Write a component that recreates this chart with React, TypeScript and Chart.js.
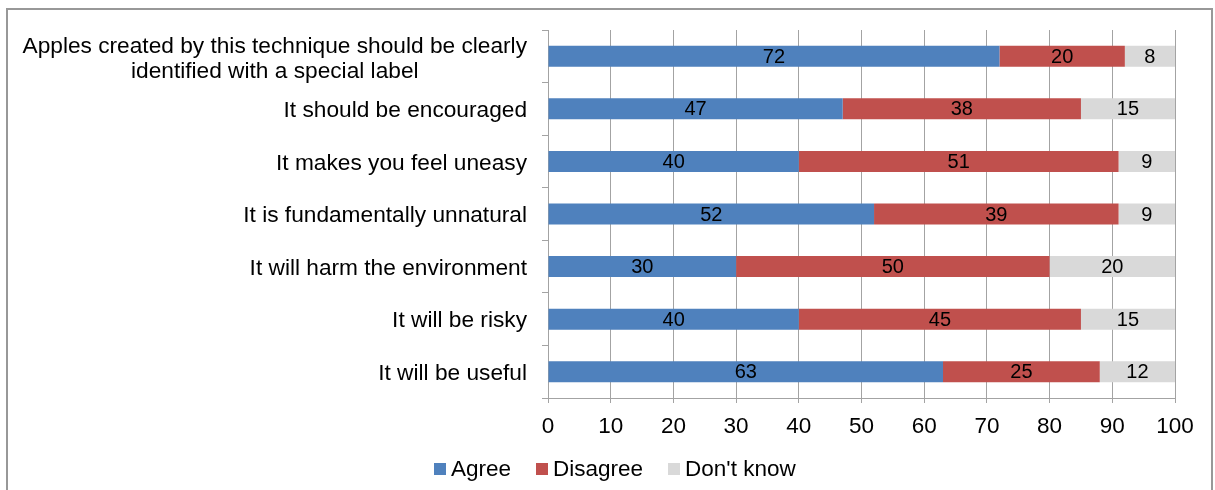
import React, { useEffect, useRef } from "react";
import { Chart, registerables } from "chart.js";

Chart.register(...registerables);

const FONT = "'Liberation Sans', Arial, Helvetica, sans-serif";

const categories: string[][] = [
  ["Apples created by this technique should be clearly", "identified with a special label"],
  ["It should be encouraged"],
  ["It makes you feel uneasy"],
  ["It is fundamentally unnatural"],
  ["It will harm the environment"],
  ["It will be risky"],
  ["It will be useful"],
];
const agree = [72, 47, 40, 52, 30, 40, 63];
const disagree = [20, 38, 51, 39, 50, 45, 25];
const dontKnow = [8, 15, 9, 9, 20, 15, 12];
const seriesNames = ["Agree", "Disagree", "Don't know"];
const seriesColors = ["#4F81BD", "#C0504D", "#D9D9D9"];
const axisMin = 0;
const axisMax = 100;
const axisStep = 10;

const GRID = "#a3a3a3";

const valueLabels = {
  id: "valueLabels",
  afterDatasetsDraw(chart: any) {
    const ctx = chart.ctx;
    ctx.save();
    ctx.font = `20px ${FONT}`;
    ctx.fillStyle = "#000";
    ctx.textAlign = "center";
    ctx.textBaseline = "middle";
    chart.data.datasets.forEach((ds: any, di: number) => {
      const meta = chart.getDatasetMeta(di);
      meta.data.forEach((el: any, i: number) => {
        const p = el.getCenterPoint();
        ctx.fillText(String(ds.data[i]), p.x, p.y + 1);
      });
    });
    ctx.restore();
  },
};

const categoryLabels = {
  id: "categoryLabels",
  afterDraw(chart: any) {
    const ctx = chart.ctx;
    const scale = chart.scales.y;
    ctx.save();
    ctx.font = `22.7px ${FONT}`;
    ctx.fillStyle = "#000";
    ctx.textAlign = "center";
    ctx.textBaseline = "middle";
    const right = scale.right - 21;
    const lh = 25;
    categories.forEach((lines, i) => {
      const cy = scale.getPixelForValue(i);
      const widest = Math.max(...lines.map((l) => ctx.measureText(l).width));
      const cx = right - widest / 2;
      const shift = lines.length > 1 ? 3 : 2;
      lines.forEach((l, k) => {
        ctx.fillText(l, cx, cy + (k - (lines.length - 1) / 2) * lh + shift);
      });
    });
    ctx.restore();
  },
};

export default function App() {
  const ref = useRef<HTMLCanvasElement | null>(null);

  useEffect(() => {
    if (!ref.current) return;
    const values = [agree, disagree, dontKnow];
    const chart = new Chart(ref.current, {
      type: "bar",
      data: {
        labels: categories.map((c) => c.join(" ")),
        datasets: seriesNames.map((name, i) => ({
          label: name,
          data: values[i],
          backgroundColor: seriesColors[i],
          borderWidth: 0,
          barPercentage: 0.4,
          categoryPercentage: 1,
        })),
      },
      options: {
        indexAxis: "y",
        responsive: false,
        animation: false,
        layout: { padding: { top: 30, right: 40, left: 0, bottom: 0 } },
        plugins: {
          legend: { display: false },
          tooltip: { enabled: false },
        },
        scales: {
          x: {
            stacked: true,
            min: axisMin,
            max: axisMax,
            ticks: {
              stepSize: axisStep,
              font: { family: FONT, size: 22.5 },
              color: "#000",
              padding: 10,
              maxRotation: 0,
            },
            grid: { color: GRID, tickLength: 5, drawTicks: true },
            border: { display: true, color: GRID },
            afterFit: (s: any) => {
              s.height = 92;
            },
          },
          y: {
            stacked: true,
            ticks: { display: false },
            grid: {
              color: GRID,
              drawOnChartArea: false,
              drawTicks: true,
              tickLength: 6,
              offset: true,
            },
            border: { display: true, color: GRID },
            afterFit: (s: any) => {
              s.width = 548;
            },
          },
        },
      },
      plugins: [valueLabels, categoryLabels],
    });
    return () => chart.destroy();
  }, []);

  return (
    <div style={{ position: "fixed", left: 0, top: 0, width: 1215, height: 490, overflow: "hidden", background: "#fff" }}>
      <canvas ref={ref} width={1215} height={490} style={{ position: "absolute", left: 0, top: 0, display: "block" }} />
      <div
        style={{
          position: "absolute",
          left: 6,
          top: 8,
          width: 1207,
          height: 600,
          boxSizing: "border-box",
          border: "2px solid #989898",
          pointerEvents: "none",
        }}
      />
      <div
        style={{
          position: "absolute",
          left: 434,
          top: 456,
          height: 26,
          display: "flex",
          alignItems: "center",
          fontFamily: FONT,
          fontSize: 22.5,
          lineHeight: "26px",
          color: "#000",
          whiteSpace: "nowrap",
        }}
      >
        {seriesNames.map((name, i) => (
          <div key={name} style={{ display: "flex", alignItems: "center", marginRight: 25 }}>
            <span style={{ display: "inline-block", width: 12, height: 12, background: seriesColors[i], marginRight: 5 }} />
            <span>{name}</span>
          </div>
        ))}
      </div>
    </div>
  );
}
